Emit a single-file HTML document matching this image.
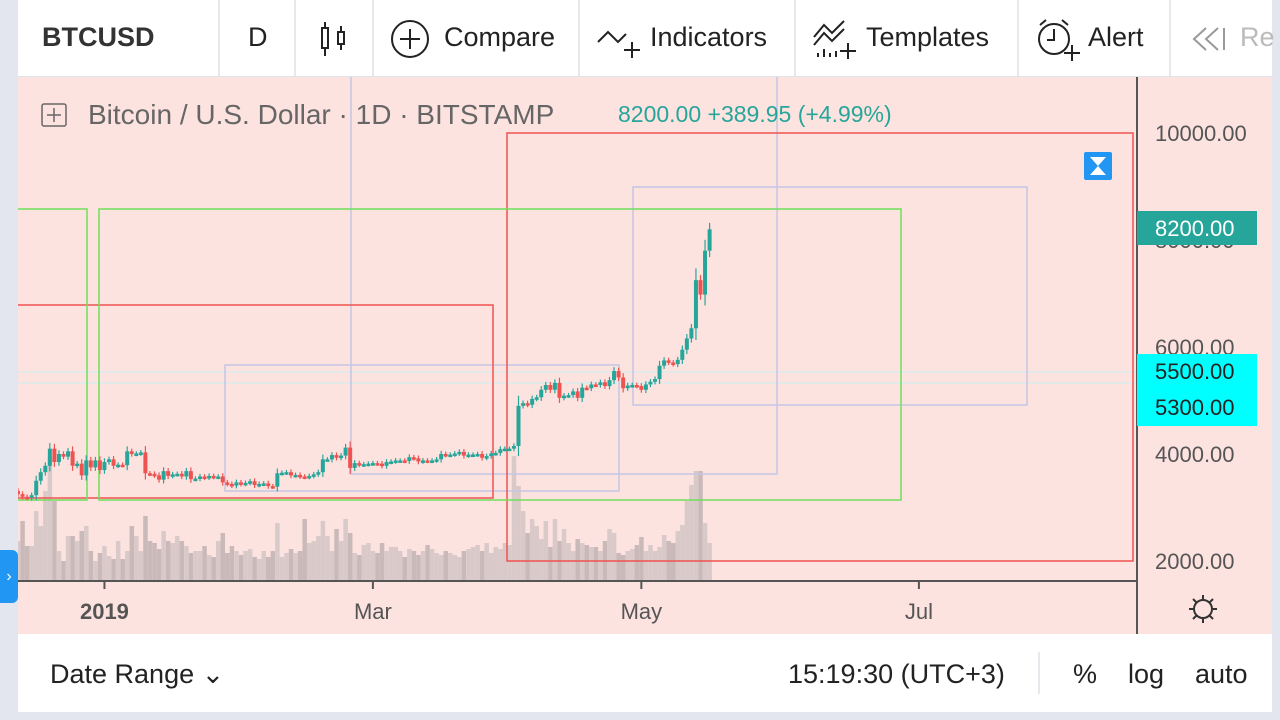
<!DOCTYPE html>
<html><head><meta charset="utf-8"><style>
body{margin:0;width:1280px;height:720px;overflow:hidden;background:#e3e6ee;font-family:"Liberation Sans",sans-serif;position:relative}
.tb{position:absolute;left:18px;top:0;width:1254px;height:76px;background:#fff;border-bottom:1px solid #e0e3eb;z-index:2}
.tb span{position:absolute;top:22px;font-size:27px;color:#222}
.sep{position:absolute;top:0;width:2px;height:76px;background:#e6e8ee}
.bb{position:absolute;left:18px;top:634px;width:1254px;height:78px;background:#fff;z-index:2}
.bb span{position:absolute;top:25px;font-size:27px;color:#222}
</style></head><body>
<div class="tb">
<span style="left:24px;font-weight:bold;color:#333">BTCUSD</span>
<div class="sep" style="left:200px"></div>
<span style="left:230px">D</span>
<div class="sep" style="left:276px"></div>
<svg style="position:absolute;left:300px;top:20px" width="34" height="38"><rect x="4" y="8" width="6" height="20" fill="none" stroke="#222" stroke-width="2"/><line x1="7" y1="2" x2="7" y2="8" stroke="#222" stroke-width="2"/><line x1="7" y1="28" x2="7" y2="36" stroke="#222" stroke-width="2"/><rect x="20" y="12" width="6" height="12" fill="none" stroke="#222" stroke-width="2"/><line x1="23" y1="6" x2="23" y2="12" stroke="#222" stroke-width="2"/><line x1="23" y1="24" x2="23" y2="30" stroke="#222" stroke-width="2"/></svg>
<div class="sep" style="left:354px"></div>
<svg style="position:absolute;left:372px;top:19px" width="40" height="40"><circle cx="20" cy="20" r="18" fill="none" stroke="#222" stroke-width="2"/><path d="M20 10v20M10 20h20" stroke="#222" stroke-width="2"/></svg>
<span style="left:426px">Compare</span>
<div class="sep" style="left:560px"></div>
<svg style="position:absolute;left:578px;top:20px" width="48" height="40"><path d="M2 22 L12 12 L22 22 L30 14" fill="none" stroke="#222" stroke-width="2"/><path d="M36 22v16M28 30h16" stroke="#222" stroke-width="2"/></svg>
<span style="left:632px">Indicators</span>
<div class="sep" style="left:776px"></div>
<svg style="position:absolute;left:794px;top:17px" width="48" height="44"><path d="M2 20 L12 8 L20 16 L32 4 M2 28 L12 16 L20 24 L32 12" fill="none" stroke="#222" stroke-width="2"/><path d="M6 40v-4M12 40v-8M18 40v-4M24 40v-6M36 26v16M28 34h16" stroke="#222" stroke-width="2"/></svg>
<span style="left:848px">Templates</span>
<div class="sep" style="left:999px"></div>
<svg style="position:absolute;left:1016px;top:17px" width="48" height="44"><circle cx="20" cy="22" r="15" fill="none" stroke="#222" stroke-width="2"/><path d="M20 12v11h-7M6 8l6-5M34 8l-6-5M38 28v16M30 36h16" fill="none" stroke="#222" stroke-width="2"/></svg>
<span style="left:1070px">Alert</span>
<div class="sep" style="left:1151px"></div>
<svg style="position:absolute;left:1172px;top:24px" width="40" height="30"><path d="M16 4L4 15l12 11M28 4L16 15l12 11M34 4v22" fill="none" stroke="#999" stroke-width="2"/></svg>
<span style="left:1222px;color:#bbb">Re</span>
</div>

<svg id="chart" style="position:absolute;left:0;top:0;z-index:1" width="1280" height="720"><defs><clipPath id="pane"><rect x="18" y="77" width="1119" height="504"/></clipPath></defs></svg>

<div class="bb">
<span style="left:32px">Date Range ⌄</span>
<span style="left:770px">15:19:30 (UTC+3)</span>
<div class="sep" style="left:1020px;top:18px;height:42px"></div>
<span style="left:1055px">%</span>
<span style="left:1110px">log</span>
<span style="left:1177px">auto</span>
</div>
<div style="position:absolute;left:0;top:550px;width:18px;height:53px;background:#2196f3;border-radius:0 6px 6px 0;color:#fff;font-size:16px;line-height:53px;text-align:center;z-index:3">›</div>

<script>
const closes=[3250,3200,3180,3230,3500,3660,3780,4100,3850,4000,3950,4050,3780,3820,3600,3880,3750,3880,3700,
3850,3900,3780,3800,3790,4050,4000,4010,4030,3640,3630,3600,3520,3680,3590,3620,3630,3580,3680,3530,3540,3580,3560,3590,3570,3580,3470,3440,3410,3470,3440,
3460,3490,3420,3440,3450,3400,3390,3640,3650,3660,3600,3610,3580,3570,3590,3620,3660,3900,3900,3980,3930,3970,4120,3740,3830,3800,3810,3820,
3830,3820,3780,3850,3860,3880,3880,3870,3940,3920,3860,3880,3870,3880,3900,4000,3980,3990,4010,4040,3970,3990,3990,4000,3930,3960,4010,4020,4090,4100,4100,
4150,4900,4950,4920,5030,5060,5200,5290,5200,5330,5050,5090,5100,5170,5050,5240,5230,5300,5290,5340,5270,5380,5550,5430,5230,5280,5290,5270,5200,5300,
5350,5400,5650,5750,5710,5680,5760,5950,6160,6350,7250,6980,7800,8200];
const volumes=[40,60,35,35,70,55,90,125,80,30,20,45,45,40,50,55,30,20,28,
35,25,22,40,22,30,55,45,30,65,40,38,32,50,40,38,45,40,35,28,30,30,35,26,24,40,48,28,35,30,26,
30,32,24,22,30,24,30,58,24,28,32,28,30,62,38,40,45,60,45,30,52,40,62,48,28,26,36,38,
30,28,38,30,34,34,30,24,32,30,26,30,36,32,28,26,30,28,26,24,30,32,34,36,30,38,28,34,32,38,36,
125,95,70,48,62,55,42,60,34,62,40,52,38,30,42,38,36,34,34,30,40,52,48,28,26,30,32,36,44,30,
36,30,34,46,40,38,50,56,80,96,110,110,58,38];
const priceTicks=[2000,4000,6000,8000,10000];
const timeLabels=["2019","Mar","May","Jul"];
const timeLabelDays=[19,78,137,198];

const svg=document.getElementById('chart');
const NS='http://www.w3.org/2000/svg';
function el(t,a,p){const e=document.createElementNS(NS,t);for(const k in a)e.setAttribute(k,a[k]);(p||svg).appendChild(e);return e;}
const y=p=>561-(p-2000)*0.0535;
const x=i=>18+i*4.55;
const vy=v=>581-v;

el('rect',{x:18,y:77,width:1254,height:557,fill:'#fde3e0'});
const pane=el('g',{'clip-path':'url(#pane)'});
volumes.forEach((v,i)=>{const up=i===0||closes[i]>=closes[i-1];
const b=el('rect',{x:x(i)-2.2,y:vy(v),width:4.5,height:v,fill:up?'#d9c9c9':'#c9b9b9'},pane);

});
function rect(x1,y1,x2,y2,c,n){const r=el('rect',{x:x1,y:y1,width:x2-x1,height:y2-y1,fill:'none',stroke:c,'stroke-width':1.5},pane);

}
el('line',{x1:18,y1:372,x2:1137,y2:372,stroke:'#c9eef0','stroke-width':1},pane);
el('line',{x1:18,y1:383,x2:1137,y2:383,stroke:'#c9eef0','stroke-width':1},pane);
rect(225,365,619,491,'#c4c6e4','rectangle-drawing');
rect(351,60,777,474,'#c4c6e4','rectangle-drawing');
rect(633,187,1027,405,'#c4c6e4','rectangle-drawing');
rect(5,305,493,498,'#ef5350','rectangle-drawing');
rect(507,133,1133,561,'#ef5350','rectangle-drawing');
rect(5,209,87,500,'#6ee05a','rectangle-drawing');
rect(99,209,901,500,'#6ee05a','rectangle-drawing');
closes.forEach((c,i)=>{const o=i?closes[i-1]:c+60;const up=c>=o;const col=up?'#26a69a':'#ef5350';
const hi=Math.max(o,c)+Math.abs(c-o)*0.2+40, lo=Math.min(o,c)-Math.abs(c-o)*0.2-40;
const g=el('g',{},pane);


el('line',{x1:x(i),x2:x(i),y1:y(hi),y2:y(lo),stroke:col,'stroke-width':1.2},g);
const t=y(Math.max(o,c)),b=y(Math.min(o,c));
el('rect',{x:x(i)-2,y:t,width:4,height:Math.max(2.5,b-t),fill:col},g);});
el('line',{x1:1137,y1:77,x2:1137,y2:634,stroke:'#555','stroke-width':2});
el('line',{x1:18,y1:581,x2:1137,y2:581,stroke:'#555','stroke-width':2});
priceTicks.forEach(p=>{const t=el('text',{x:1155,y:y(p)+8,'font-size':22,fill:'#555','font-family':'Liberation Sans'});t.textContent=p.toFixed(2);

});
timeLabels.forEach((l,k)=>{const xx=x(timeLabelDays[k]);
el('line',{x1:xx,x2:xx,y1:581,y2:589,stroke:'#555','stroke-width':2});
const t=el('text',{x:xx,y:619,'font-size':22,fill:'#555','text-anchor':'middle','font-weight':k===0?'bold':'normal','font-family':'Liberation Sans'});t.textContent=l;

});
function plabel(yc,txt,bg,fg,n){const g=el('g',{});


el('rect',{x:1137,y:yc-17,width:120,height:34,fill:bg},g);
const t=el('text',{x:1155,y:yc+8,'font-size':22,fill:fg,'font-family':'Liberation Sans'},g);t.textContent=txt;}
plabel(228,'8200.00','#26a69a','#fff','last-price-label');
el('rect',{x:1137,y:354,width:120,height:72,fill:'#00ffff'});
plabel(371,'5500.00','#00ffff','#222','line-price-label');
plabel(407,'5300.00','#00ffff','#222','line-price-label');
const lg=el('g',{});


el('rect',{x:42,y:104,width:24,height:22,fill:'none',stroke:'#666','stroke-width':1.5,rx:2},lg);
el('path',{d:'M54 108v14M47 115h14',stroke:'#666','stroke-width':1.5},lg);
let t=el('text',{x:88,y:124,'font-size':28,fill:'#666','font-family':'Liberation Sans'},lg);t.textContent='Bitcoin / U.S. Dollar · 1D · BITSTAMP';
t=el('text',{x:618,y:122,'font-size':23,fill:'#26a69a','font-family':'Liberation Sans'},lg);t.textContent='8200.00  +389.95 (+4.99%)';
const ic=el('g',{});


el('rect',{x:1084,y:152,width:28,height:28,fill:'#2196f3',rx:2},ic);
el('path',{d:'M1090 157h16l-8 9zM1090 175h16l-8-9z',fill:'#fff'},ic);
const gr=el('g',{});


el('circle',{cx:1203,cy:609,r:9,fill:'none',stroke:'#333','stroke-width':2},gr);
el('path',{d:'M1203 595v5M1203 618v5M1189 609h5M1212 609h5M1193 599l4 4M1209 615l4 4M1193 619l4-4M1209 603l4-4',stroke:'#333','stroke-width':2},gr);
</script>
</body></html>
